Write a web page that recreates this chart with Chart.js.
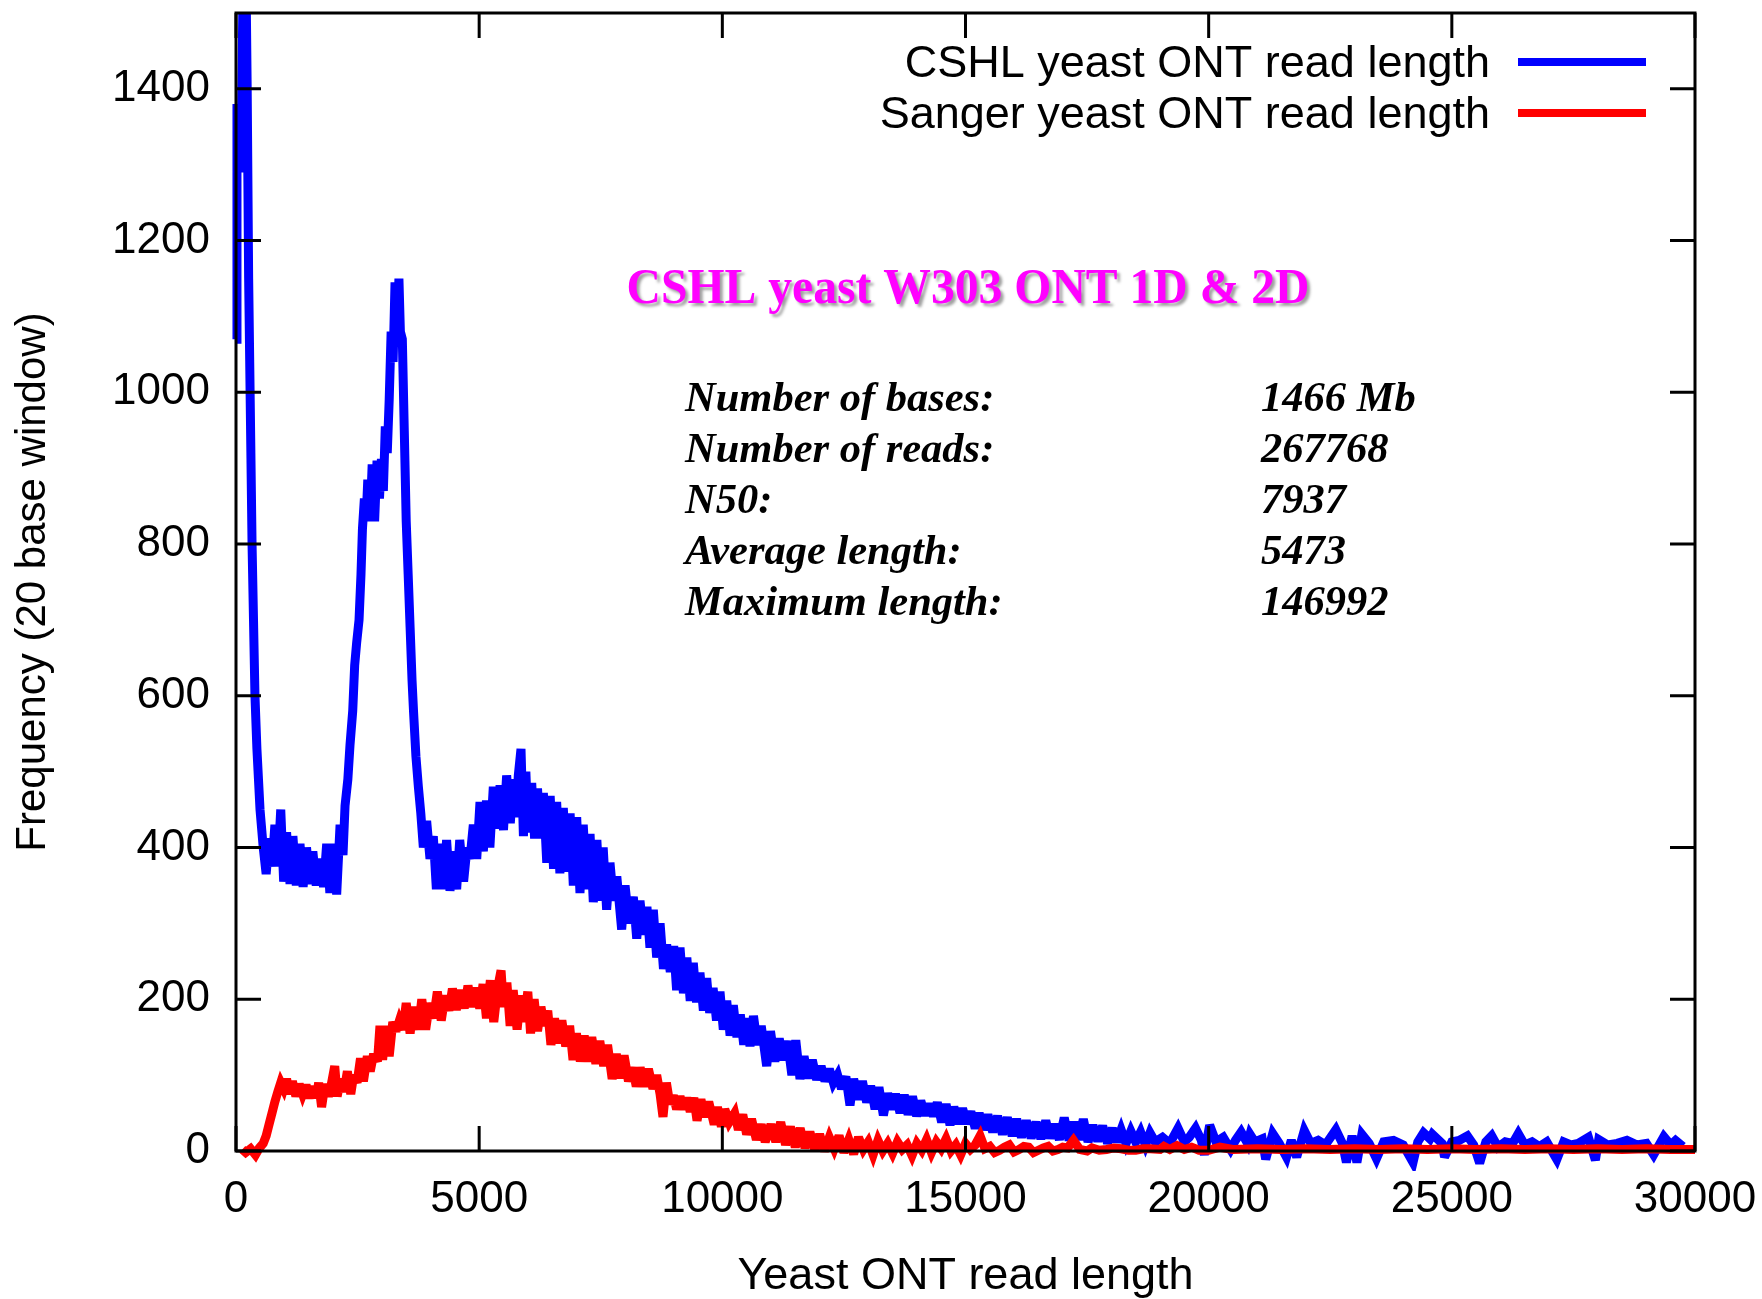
<!DOCTYPE html>
<html>
<head>
<meta charset="utf-8">
<script src="https://cdn.jsdelivr.net/npm/chart.js@4.4.0/dist/chart.umd.min.js"></script>
<style>
html,body{margin:0;padding:0;background:#ffffff;}
canvas{display:block;}
</style>
</head>
<body>
<canvas id="c" width="1762" height="1299"></canvas>
<script>
// ---------- tick labels ----------
const xTicks = [0, 5000, 10000, 15000, 20000, 25000, 30000];
const yTicks = [0, 200, 400, 600, 800, 1000, 1200, 1400];

// ---------- series names / annotation text ----------
const seriesNames = ['CSHL yeast ONT read length', 'Sanger yeast ONT read length'];
const titleText = 'CSHL yeast W303 ONT 1D & 2D';
const statLabels = ['Number of bases:', 'Number of reads:', 'N50:', 'Average length:', 'Maximum length:'];
const statValues = ['1466 Mb', '267768', '7937', '5473', '146992'];

// ---------- CSHL series (read length, frequency) ----------
const cshlLen = [
  0,20,100,150,200,230,260,290,330,390,430,494,
  560,620,680,740,800,860,920,980,1040,1111,1170,1240,1316,1380,1450,1522,1580,1650,1728,1800,1865,1930,2000,2070,2140,2200,
  2242,2300,2344,2400,2440,2481,2530,2570,2600,2640,2680,2710,2756,2800,2850,2900,2950,2990,3030,3070,3110,3150,3190,3230,3270,3310,3350,3380,3420,3460,3500,3540,3580,3620,3650,3700,3750,3800,3852,3920,3989,
  4057,4120,4195,4263,4330,4400,4470,4537,4600,4680,
  4750,4811,4880,4950,5017,5086,5150,5220,5291,5360,
  5430,5500,5565,5640,5700,5760,5805,5860,5910,5960,
  6011,6080,6140,6200,6251,6320,6390,6460,6530,6593,
  6660,6730,6800,6870,6936,7005,7073,7140,7210,7280,
  7347,7420,7484,7550,7621,7690,7760,7830,7930,8000,
  8080,8170,8240,8307,8380,8450,8512,8581,8650,8720,
  8790,8855,8930,9000,9060,9130,9200,9270,9340,9403,
  9470,9540,9610,9678,9740,9810,9880,9952,10020,10090,
  10160,10226,10300,10370,10440,10500,10569,
  10640,10720,10800,10912,10990,11080,11170,11255,11340,11430,
  11510,11597,11680,11760,11850,11940,12030,12110,12200,12283,
  12370,12450,12540,12625,12700,12800,12880,12968,13050,13140,
  13220,13311,13400,13480,13560,13654,13740,13820,13910,13996,
  14080,14170,14250,14339,14420,14510,14600,14682,14760,14850,
  14940,15024,15110,15200,15280,15367,15460,15560,15660,15760,
  15860,15960,16052,16150,16250,16350,16450,16550,16650,16738,
  16830,16930,17030,17130,17230,17330,17423,17520,17620,17720,
  17820,17920,18020,18109,18200,18300,18400,18500,18600,18700,
  18794,18900,19050,19200,19370,19500,19600,19730,19850,19911,
  20020,20150,20300,20450,20550,20668,20800,20850,20950,21100,
  21173,21317,21450,21600,21700,21810,21966,22100,22250,22400,
  22615,22750,22832,22950,23048,23150,23300,23450,23600,23800,
  24000,24202,24300,24418,24550,24600,24800,24850,25000,25150,
  25320,25450,25572,25700,25820,25950,26100,26250,26366,26500,
  26650,26800,26950,27159,27300,27450,27600,27808,27952,28020,
  28200,28400,28600,28800,29000,29150,29359,29500,29600,29750
];
const cshlFreq = [
  1070,1380,1290,1560,1580,1400,1150,1000,800,600,530,450,
  400,365,412,375,430,375,450,355,420,352,415,350,405,348,400,352,395,350,385,348,405,340,405,338,430,390,
  455,490,535,580,640,670,700,760,820,860,840,885,830,905,830,910,860,912,870,955,920,990,1080,1040,1145,1060,1150,1080,1070,950,830,760,690,620,580,520,480,445,400,435,385,
  415,345,405,345,410,343,395,345,410,355,
  400,385,430,385,460,395,462,400,480,425,
  482,423,495,432,490,440,495,530,415,500,
  420,485,412,478,412,472,380,468,372,460,
  366,452,368,445,350,440,340,430,345,418,
  328,410,330,400,318,380,330,362,292,350,
  300,335,280,330,285,322,268,318,255,300,
  240,272,236,270,212,268,208,255,198,248,
  196,235,185,228,182,215,172,210,160,198,
  152,192,150,180,140,175,138,
  178,140,165,112,158,118,148,120,145,100,
  146,95,125,96,120,94,112,92,108,90,
  100,82,98,60,95,68,92,64,86,55,
  84,47,76,55,75,50,74,48,72,46,
  66,47,62,46,64,38,62,34,58,36,
  56,36,52,30,50,28,48,25,46,22,
  44,20,42,18,40,17,38,16,40,17,
  35,15,44,14,38,15,42,12,34,13,
  33,10,30,12,28,10,26,12,25,8,
  24,12,18,10,30,12,18,30,14,-5,
  34,12,18,2,14,25,10,22,12,16,
  -11,23,10,-8,14,-8,27,10,14,8,
  28,10,-15,20,-15,22,10,-10,12,14,
  8,-15,12,24,16,22,10,-8,12,14,
  20,8,-16,12,20,5,12,10,23,8,
  12,6,12,-11,12,8,10,18,-12,15,
  8,10,14,8,10,-5,19,8,14,6
];

// ---------- Sanger series (read length, frequency) ----------
const sangerLen = [
  130,200,300,400,480,560,620,680,740,800,
  860,920,980,1040,1100,1160,1231,1300,1370,1440,
  1510,1580,1651,1700,1760,1830,1900,1966,2030,2080,
  2150,2220,2290,2360,2420,2490,2560,2620,2700,2760,
  2830,2910,2960,3015,3080,3150,3224,3290,3360,3434,
  3500,3580,3650,3749,3820,3900,3980,4063,4140,4220,
  4300,4378,4450,4530,4610,4693,4770,4850,4930,5012,
  5080,5150,5230,5300,5380,5450,5500,5570,5637,5700,
  5780,5850,5920,6000,6057,6130,6200,6270,6340,6410,
  6476,6550,6620,6700,6780,6860,6930,7000,7080,7160,
  7240,7315,7400,7480,7560,7640,7735,7820,7900,7980,
  8070,8155,8230,8310,8400,8480,8574,8650,8720,8780,
  8850,8920,8994,9060,9130,9200,9270,9340,9414,9480,
  9560,9640,9720,9833,9900,9980,10050,10140,10253,10330,
  10420,10500,10600,10700,10800,10882,11000,11100,11200,11300,
  11400,11500,11600,11700,11800,11900,12000,12100,12200,12300,
  12400,12500,12600,12700,12800,12900,13000,13100,13200,13300,
  13400,13500,13600,13700,13800,13900,14000,14100,14200,14300,
  14400,14500,14600,14700,14800,14900,15000,15100,15200,15300,
  15400,15500,15600,15700,15800,15900,16000,16100,16200,16300,
  16400,16500,16600,16700,16800,16900,17000,17100,17220,17350,
  17500,17600,17750,17900,18050,18200,18350,18500,18650,18800,
  19000,19080,19200,19350,19500,19650,19800,20000,20230,20500,
  21000,21500,22000,22500,23000,23500,24000,24500,25000,25500,
  26000,26500,27000,27500,28000,28500,29000,29500,30000
];
const sangerFreq = [
  2,-2,3,-5,4,10,20,35,50,65,
  78,90,82,95,75,92,72,88,75,87,
  70,85,70,90,58,88,72,90,112,72,
  95,78,105,75,100,90,122,92,125,105,
  128,118,165,120,165,125,170,158,172,160,
  195,155,190,160,200,160,195,175,210,172,
  205,185,214,186,212,188,218,190,215,188,
  220,175,225,170,215,238,190,222,165,212,
  160,205,170,210,155,200,158,190,165,185,
  140,175,142,172,138,165,120,155,118,152,
  118,150,115,145,112,140,95,128,96,126,
  92,110,85,110,85,108,82,100,75,45,
  90,62,73,55,72,55,70,52,70,40,
  68,45,65,35,58,32,55,38,50,28,
  48,22,42,15,35,12,35,12,38,8,
  32,5,30,4,25,2,22,0,18,3,
  20,-2,15,-4,18,2,12,-5,14,0,
  10,-3,12,2,8,-6,10,1,15,-2,
  12,3,16,0,8,-5,10,2,8,20,
  3,6,-2,1,5,8,-1,2,6,5,
  -2,1,4,6,0,2,5,4,14,2,
  0,4,1,2,4,3,1,1,3,3,
  2,6,2,7,2,5,1,1,5,2,
  3,2,3,2,3,2,3,2,3,2,
  3,2,3,2,3,2,3,2,2
];

// ---------- build datasets from the arrays ----------
const toPoints = (xs, ys) => xs.map((v, i) => ({x: v, y: ys[i]}));
const SANS = '"Liberation Sans", Arial, Helvetica, sans-serif';
const SERIF = '"Liberation Serif", "Times New Roman", serif';
const BLUE = '#0000ff';
const RED = '#ff0000';

const frameAndText = {
  id: 'frameAndText',
  beforeDatasetsDraw(chart) {
    chart.ctx.miterLimit = 3;
  },
  afterDatasetsDraw(chart) {
    const {ctx, chartArea: a, scales: {x, y}} = chart;
    ctx.save();
    // inward tick marks
    ctx.strokeStyle = '#000';
    ctx.lineWidth = 3;
    ctx.lineCap = 'butt';
    ctx.beginPath();
    const tl = 25;
    xTicks.forEach(v => {
      const px = x.getPixelForValue(v);
      ctx.moveTo(px, a.bottom); ctx.lineTo(px, a.bottom - tl);
      ctx.moveTo(px, a.top); ctx.lineTo(px, a.top + tl);
    });
    yTicks.forEach(v => {
      const py = y.getPixelForValue(v);
      ctx.moveTo(a.left, py); ctx.lineTo(a.left + tl, py);
      ctx.moveTo(a.right, py); ctx.lineTo(a.right - tl, py);
    });
    ctx.stroke();
    // frame
    ctx.lineJoin = 'miter';
    ctx.strokeRect(a.left, a.top, a.right - a.left, a.bottom - a.top);

    // legend (text left of line sample)
    ctx.font = '45px ' + SANS;
    ctx.textAlign = 'right';
    ctx.textBaseline = 'alphabetic';
    ctx.fillStyle = '#000';
    const legendY = [62, 113];
    chart.data.datasets.forEach((ds, i) => {
      const ly = legendY[i];
      ctx.fillText(ds.label, 1490, ly + 15);
      ctx.strokeStyle = ds.borderColor;
      ctx.lineWidth = 8;
      ctx.beginPath();
      ctx.moveTo(1518, ly); ctx.lineTo(1646, ly);
      ctx.stroke();
    });

    // magenta title with shadow
    ctx.save();
    ctx.font = 'bold 50px ' + SERIF;
    const tw = ctx.measureText(titleText).width;
    const target = 683;
    ctx.translate(968, 303);
    ctx.scale(target / tw, 1);
    ctx.textAlign = 'center';
    ctx.shadowColor = 'rgba(0,0,0,0.38)';
    ctx.shadowOffsetX = 3;
    ctx.shadowOffsetY = 3;
    ctx.shadowBlur = 3;
    ctx.fillStyle = '#ff00ff';
    ctx.fillText(titleText, 0, 0);
    ctx.restore();

    // statistics block
    ctx.font = 'italic bold 42.5px ' + SERIF;
    ctx.textAlign = 'left';
    ctx.fillStyle = '#000';
    statLabels.forEach((s, i) => {
      const by = 411 + i * 51;
      ctx.fillText(s, 685, by);
      ctx.fillText(statValues[i], 1261, by);
    });
    ctx.restore();
  }
};

const lineStyle = {
  borderWidth: 9,
  pointRadius: 0,
  tension: 0,
  borderJoinStyle: 'miter',
  borderCapStyle: 'butt',
  fill: false,
  clip: {left: 8, top: 0, right: 4, bottom: 20}
};

new Chart(document.getElementById('c'), {
  type: 'line',
  data: {
    datasets: [
      Object.assign({
        label: seriesNames[0],
        data: toPoints(cshlLen, cshlFreq),
        borderColor: BLUE,
        backgroundColor: BLUE,
        order: 1
      }, lineStyle),
      Object.assign({
        label: seriesNames[1],
        data: toPoints(sangerLen, sangerFreq),
        borderColor: RED,
        backgroundColor: RED,
        order: 0
      }, lineStyle)
    ]
  },
  options: {
    responsive: false,
    animation: false,
    devicePixelRatio: 1,
    layout: {padding: {left: 0, right: 67, top: 13, bottom: 0}},
    plugins: {
      legend: {display: false},
      tooltip: {enabled: false},
      title: {display: false}
    },
    scales: {
      x: {
        type: 'linear',
        min: 0,
        max: 30000,
        afterBuildTicks: s => { s.ticks = xTicks.map(v => ({value: v})); },
        afterFit: s => { s.height = 148; s.paddingLeft = 0; s.paddingRight = 0; },
        grid: {display: false, drawTicks: false},
        border: {display: false},
        ticks: {
          color: '#000',
          font: {family: SANS, size: 44, lineHeight: 1},
          padding: 27,
          maxRotation: 0,
          minRotation: 0,
          autoSkip: false,
          callback: v => String(v)
        },
        title: {
          display: true,
          text: 'Yeast ONT read length',
          color: '#000',
          font: {family: SANS, size: 45, lineHeight: 1},
          padding: {top: 0, bottom: 0}
        }
      },
      y: {
        type: 'linear',
        min: 0,
        max: 1500,
        afterBuildTicks: s => { s.ticks = yTicks.map(v => ({value: v})); },
        afterFit: s => { s.width = 236; s.paddingTop = 0; s.paddingBottom = 0; },
        grid: {display: false, drawTicks: false},
        border: {display: false},
        ticks: {
          color: '#000',
          font: {family: SANS, size: 44, lineHeight: 1},
          padding: 26,
          autoSkip: false,
          callback: v => String(v)
        },
        title: {
          display: true,
          text: 'Frequency (20 base window)',
          color: '#000',
          font: {family: SANS, size: 42, lineHeight: 1},
          padding: {top: 12, bottom: 0}
        }
      }
    }
  },
  plugins: [frameAndText]
});
</script>
</body>
</html>
